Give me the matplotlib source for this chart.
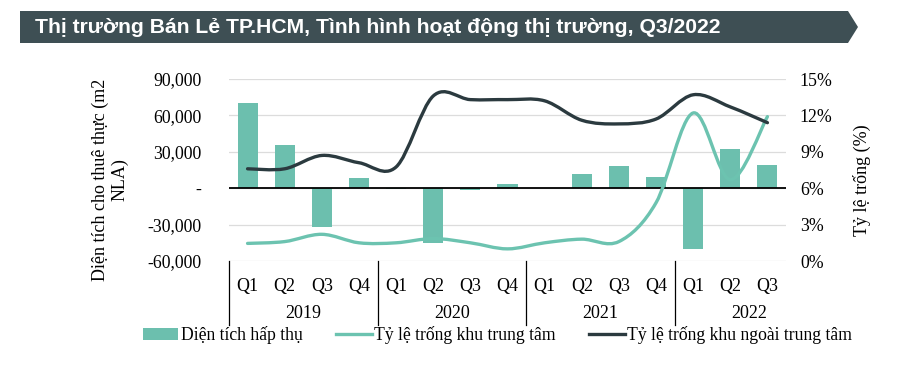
import numpy as np
import matplotlib.pyplot as plt
from matplotlib.path import Path
from matplotlib.patches import PathPatch, Patch, Polygon
from matplotlib.lines import Line2D
from matplotlib.ticker import FuncFormatter
import matplotlib.transforms as mtransforms

plt.rcParams['font.family'] = ['Liberation Serif', 'DejaVu Serif']

# dữ liệu
quarters = ['Q1', 'Q2', 'Q3', 'Q4', 'Q1', 'Q2', 'Q3', 'Q4',
            'Q1', 'Q2', 'Q3', 'Q4', 'Q1', 'Q2', 'Q3']
years = ['2019', '2020', '2021', '2022']
absorption = [70000, 36000, -32000, 8500, -1000, -45500, -1500, 3300,
              0, 11300, 18000, 9600, -50500, 32000, 19000]
vacancy_center = [1.45, 1.6, 2.2, 1.5, 1.5, 1.85, 1.5, 1.0,
                  1.5, 1.8, 1.6, 4.8, 12.2, 6.7, 11.9]
vacancy_outer = [7.6, 7.6, 8.7, 8.1, 7.75, 13.6, 13.3, 13.3,
                 13.2, 11.6, 11.3, 11.7, 13.7, 12.7, 11.4]

bar_color = '#6cbfae'
teal = '#6cc3b0'
dark = '#2b3a3f'


def smooth_path(x, y):
    # đường cong kiểu Excel (Bezier qua các điểm)
    px = list(x)
    py = list(y)
    n = len(px)
    verts = [(px[0], py[0])]
    codes = [Path.MOVETO]
    for i in range(n - 1):
        x0, y0 = (px[i - 1], py[i - 1]) if i > 0 else (px[i], py[i])
        x3, y3 = (px[i + 2], py[i + 2]) if i + 2 < n else (px[i + 1], py[i + 1])
        c1 = (px[i] + (px[i + 1] - x0) / 6, py[i] + (py[i + 1] - y0) / 6)
        c2 = (px[i + 1] - (x3 - px[i]) / 6, py[i + 1] - (y3 - py[i]) / 6)
        verts += [c1, c2, (px[i + 1], py[i + 1])]
        codes += [Path.CURVE4] * 3
    return Path(verts, codes)


fig = plt.figure(figsize=(9, 3.76), dpi=100)

# banner tiêu đề
W, H = 900, 376
pts = [(20, 11), (848, 11), (858, 27), (848, 43), (20, 43)]
banner = Polygon([(a / W, 1 - b / H) for a, b in pts], closed=True,
                 transform=fig.transFigure, facecolor='#3e4f54', edgecolor='none')
fig.patches.append(banner)
fig.text(35 / W, 1 - 27.5 / H, 'Thị trường Bán Lẻ TP.HCM, Tình hình hoạt động thị trường, Q3/2022',
         color='white', fontsize=15.2, fontweight='bold', va='center', ha='left',
         family=['Liberation Sans', 'DejaVu Sans'])

ax = fig.add_axes([229 / W, 1 - 261 / H, (786 - 229) / W, (261 - 79) / H])
x = np.arange(len(quarters))
ax.bar(x, absorption, width=0.54, color=bar_color, zorder=2)
ax.set_xlim(-0.5, len(quarters) - 0.5)
ax.set_ylim(-60000, 90000)
ax.set_yticks(np.arange(-60000, 90001, 30000))
ax.yaxis.set_major_formatter(FuncFormatter(lambda v, p: '-' if v == 0 else f'{v:,.0f}'))
ax.grid(axis='y', color='#dcdcdc', lw=0.9, zorder=0)
ax.axhline(0, color='black', lw=1.3, zorder=3)
for s in ax.spines.values():
    s.set_visible(False)
ax.tick_params(axis='y', length=0, pad=20, labelsize=12.8)
ax.set_xticks(x)
ax.set_xticklabels(quarters, fontsize=13)
ax.tick_params(axis='x', length=0, pad=12)
ax.set_ylabel('Diện tích cho thuê thực (m2\nNLA)', fontsize=13, linespacing=1.15)
ax.yaxis.set_label_coords(-0.181, 0.445)

# nhãn năm và đường phân cách
trans = mtransforms.blended_transform_factory(ax.transData, ax.transAxes)
for sep in [-0.5, 3.5, 7.5, 11.5]:
    ax.plot([sep, sep], [0, -0.35], transform=trans, color='black', lw=0.9, clip_on=False)
for i, yr in enumerate(years):
    ax.text(1.5 + 4 * i, -0.29, yr, transform=trans, ha='center', va='center', fontsize=13)

ax2 = ax.twinx()
ax2.set_ylim(0, 15)
ax2.set_yticks(np.arange(0, 15.1, 3))
ax2.yaxis.set_major_formatter(FuncFormatter(lambda v, p: f'{v:.0f}%'))
for s in ax2.spines.values():
    s.set_visible(False)
ax2.tick_params(axis='y', length=0, pad=10, labelsize=12.8)
ax2.set_ylabel('Tỷ lệ trống (%)', fontsize=13)
ax2.yaxis.set_label_coords(1.12, 0.445)
ax2.add_patch(PathPatch(smooth_path(x, vacancy_center), facecolor='none',
                        edgecolor=teal, lw=2.4, capstyle='round'))
ax2.add_patch(PathPatch(smooth_path(x, vacancy_outer), facecolor='none',
                        edgecolor=dark, lw=2.4, capstyle='round'))

handles = [Patch(facecolor=bar_color, edgecolor='none'),
           Line2D([], [], color=teal, lw=2.4),
           Line2D([], [], color=dark, lw=2.4)]
labels = ['Diện tích hấp thụ', 'Tỷ lệ trống khu trung tâm', 'Tỷ lệ trống khu ngoài trung tâm']
fig.legend(handles, labels, loc='center', bbox_to_anchor=(0.553, 1 - 335 / H), ncol=3,
           frameon=False, fontsize=12.7, handlelength=2.0, handletextpad=0.15,
           columnspacing=1.9)

fig.savefig('out.png', dpi=100)
